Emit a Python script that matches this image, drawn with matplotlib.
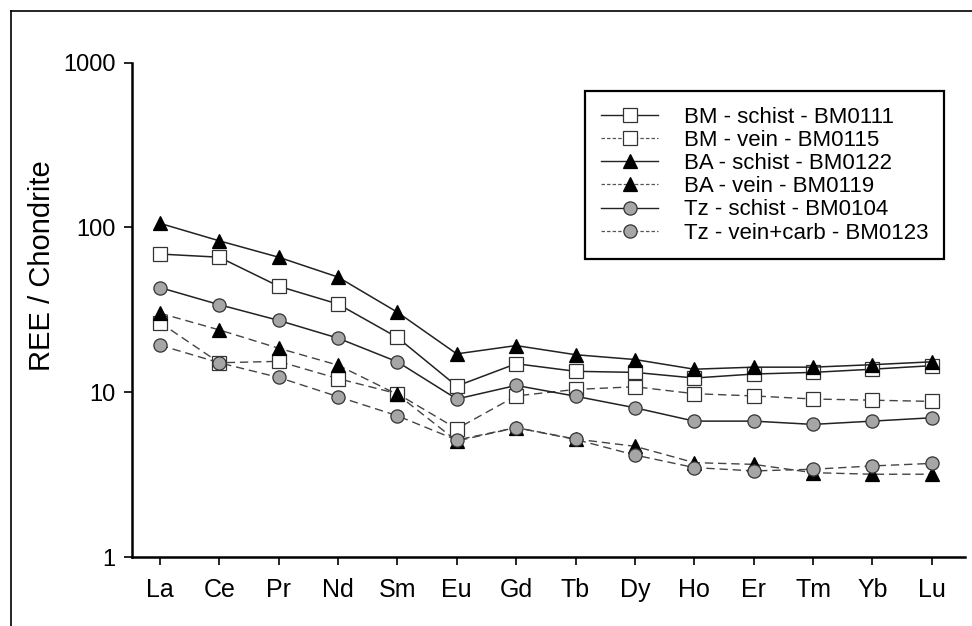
import matplotlib
matplotlib.use("Agg")
import matplotlib.pyplot as plt
from matplotlib.lines import Line2D

plt.rcParams['font.family'] = ['Liberation Sans', 'DejaVu Sans']
plt.rcParams['lines.scale_dashes'] = False

# REE elements along x
elements = ["La", "Ce", "Pr", "Nd", "Sm", "Eu", "Gd", "Tb", "Dy", "Ho", "Er", "Tm", "Yb", "Lu"]

# chondrite-normalised values
bm_schist = [69, 66, 44, 34.3, 21.5, 10.9, 14.9, 13.4, 13.2, 12.2, 12.9, 13.2, 13.8, 14.5]
bm_vein = [26.5, 15.1, 15.4, 12.1, 9.8, 6.0, 9.5, 10.4, 10.8, 9.8, 9.5, 9.1, 8.95, 8.8]
ba_schist = [106, 83, 66, 50, 30.6, 17.1, 19.2, 16.9, 15.8, 13.8, 14.2, 14.2, 14.7, 15.3]
ba_vein = [30.2, 23.9, 18.5, 14.6, 9.7, 5.06, 6.1, 5.2, 4.7, 3.74, 3.65, 3.25, 3.18, 3.18]
tz_schist = [43.2, 34, 27.3, 21.3, 15.3, 9.1, 11.0, 9.46, 8.05, 6.68, 6.68, 6.38, 6.68, 7.0]
tz_vein = [19.3, 15.1, 12.3, 9.4, 7.2, 5.13, 6.1, 5.17, 4.16, 3.49, 3.33, 3.41, 3.57, 3.7]

labels = ["BM - schist - BM0111", "BM - vein - BM0115", "BA - schist - BM0122",
          "BA - vein - BM0119", "Tz - schist - BM0104", "Tz - vein+carb - BM0123"]

y_ticks = [1, 10, 100, 1000]

# marker style per rock group
square = dict(marker='s', markerfacecolor='white', markeredgecolor='#333333')
triangle = dict(marker='^', markerfacecolor='black', markeredgecolor='black')
circle = dict(marker='o', markerfacecolor='#a6a6a6', markeredgecolor='#333333')

series = [
    (bm_schist, square, False),
    (bm_vein, square, True),
    (ba_schist, triangle, False),
    (ba_vein, triangle, True),
    (tz_schist, circle, False),
    (tz_vein, circle, True),
]

fig = plt.figure(figsize=(9.72, 6.26), dpi=100)
ax = fig.add_axes([0.1358, 0.1102, 0.857, 0.7896])

x = list(range(len(elements)))
for vals, style, dashed in series:
    if dashed:
        ax.plot(x, vals, color='#444444', lw=1.0, dashes=(6, 3.5), ms=9.5, mew=0.9, **style)
    else:
        ax.plot(x, vals, color='#222222', lw=1.1, ms=9.5, mew=0.9, **style)

ax.set_yscale('log')
ax.set_ylim(1, 1000)
ax.set_xlim(-0.47, 13.56)
ax.set_yticks(y_ticks)
ax.set_yticklabels([str(v) for v in y_ticks])
ax.minorticks_off()
ax.set_xticks(x)
ax.set_xticklabels(elements)

for side in ['top', 'right']:
    ax.spines[side].set_visible(False)
for side in ['left', 'bottom']:
    ax.spines[side].set_linewidth(1.8)

ax.tick_params(axis='y', direction='out', length=6, width=1.2, pad=6, labelsize=17)
ax.tick_params(axis='x', direction='out', length=6, width=1.2, pad=9, labelsize=18)

fig.text(0.043, 0.575, "REE / Chondrite", rotation=90, ha='center', va='center', fontsize=21)

# legend with finer dashes on the handles
handles = []
for (vals, style, dashed), lab in zip(series, labels):
    if dashed:
        h = Line2D([], [], color='#555555', lw=0.9, dashes=(2.5, 1.5), ms=9.5, mew=0.9, **style)
    else:
        h = Line2D([], [], color='#222222', lw=1.0, ms=9.5, mew=0.9, **style)
    handles.append(h)

leg = fig.legend(handles, labels, loc='upper left', bbox_to_anchor=(0.602, 0.8546),
                 bbox_transform=fig.transFigure, borderaxespad=0, fontsize=16,
                 frameon=True, fancybox=False, edgecolor='black', framealpha=1,
                 borderpad=0.7, labelspacing=0.1, handlelength=2.6, handletextpad=1.15)
leg.get_frame().set_linewidth(1.6)

# outer frame lines (top and left) of the original figure
fig.add_artist(Line2D([10.5 / 972, 1.0], [1 - 10.5 / 626, 1 - 10.5 / 626],
                      transform=fig.transFigure, color='black', lw=1.2))
fig.add_artist(Line2D([10.5 / 972, 10.5 / 972], [0, 1 - 10.5 / 626],
                      transform=fig.transFigure, color='black', lw=1.2))

fig.savefig("out.png", dpi=100)
